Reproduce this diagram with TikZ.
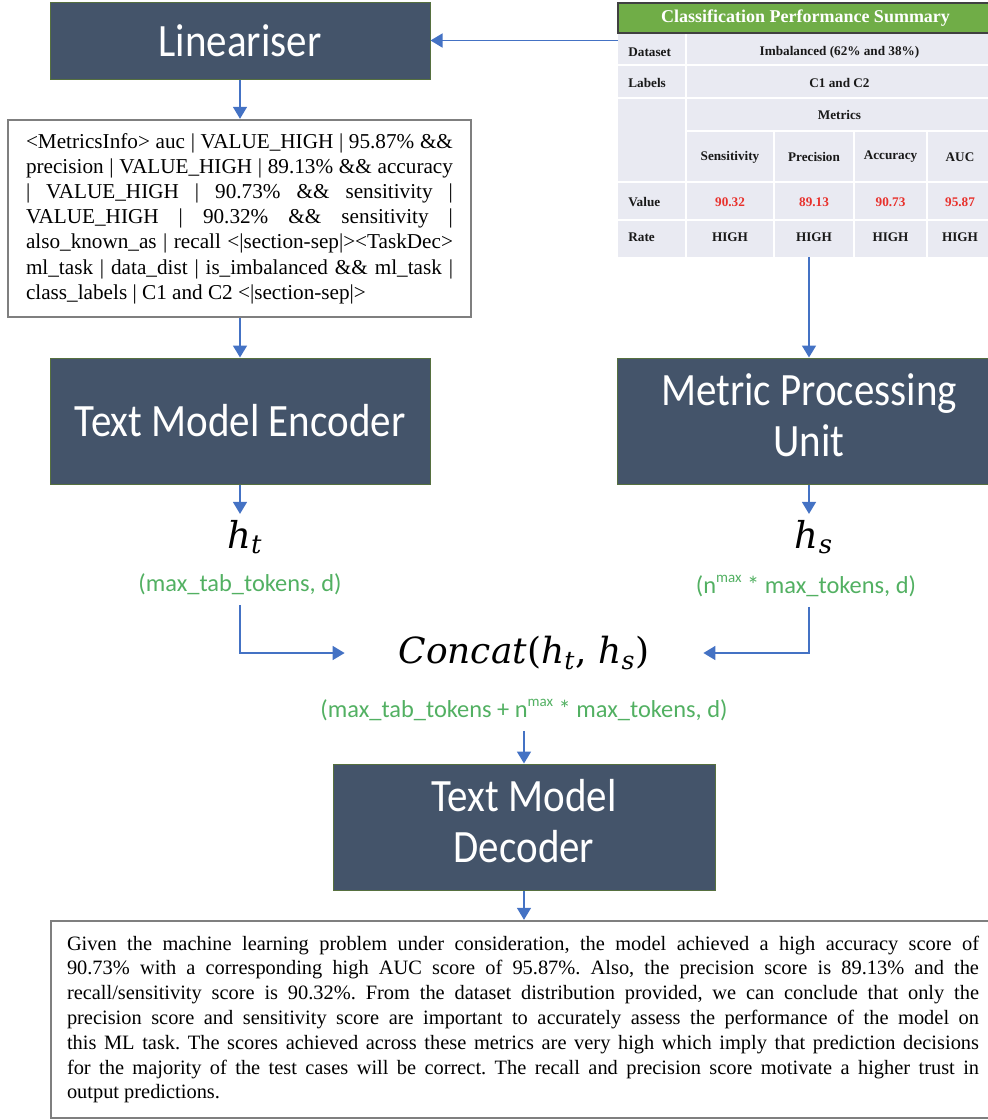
\documentclass[tikz,border=0pt]{standalone}
\usepackage{fontspec}
\usepackage{graphicx}
\setmainfont{Liberation Serif}
\newfontfamily\calfont{Carlito}
\newfontfamily\hfont{DejaVu Serif}
\usetikzlibrary{arrows.meta,calc}

\definecolor{slate}{HTML}{44546A}
\definecolor{slateedge}{HTML}{56703F}
\definecolor{arrowblue}{HTML}{4472C4}
\definecolor{dimgreen}{HTML}{52B062}
\definecolor{tabgreen}{HTML}{70AD47}
\definecolor{tabbg}{HTML}{E9EAF2}
\definecolor{valred}{HTML}{E8312C}
\definecolor{boxgray}{HTML}{7F7F7F}

% taller lettering for the dark blocks
\newcommand{\tallbox}[1]{\scalebox{1}[1.13]{#1}}
% one justified line of a fixed-width text block
\newcommand{\jline}[1]{\hbox to \hsize{#1}}
% italic hidden-state symbol with italic subscript
\newcommand{\hvar}[1]{\textit{h}\textsubscript{\textit{#1}}}
% small raised superscript for the dimension labels
\newcommand{\smallsup}[1]{\raisebox{0.45em}{\fontsize{7.5}{8}\selectfont #1}}

\begin{document}
\frenchspacing
\begin{tikzpicture}[x=0.5pt,y=-0.5pt,
  block/.style={draw=slateedge, line width=0.5pt, fill=slate, text=white,
    inner sep=0pt, font=\calfont\fontsize{20.5}{22.5}\selectfont},
  arr/.style={draw=arrowblue, line width=0.8pt, -{Triangle[width=7pt,length=6pt]}},
  dims/.style={text=dimgreen, font=\calfont\fontsize{12.2}{14}\selectfont,
    inner xsep=0pt, inner ysep=5pt},
  hvec/.style={font=\hfont\fontsize{18.5}{22}\selectfont, inner sep=0pt, outer sep=3pt},
  textbox/.style={draw=boxgray, line width=1.2pt, fill=white, inner sep=0pt},
  tabgrid/.style={draw=white, line width=0.8pt},
  tlabel/.style={font=\bfseries\fontsize{6.6}{8}\selectfont, text=black!90, inner sep=0pt, anchor=west},
  tcell/.style={font=\bfseries\fontsize{6.6}{8}\selectfont, text=black!90, inner sep=0pt},
  tval/.style={tcell, text=valred}
]
\useasboundingbox (0,0) rectangle (988,1120);

% ---- summary table ----
\node[fill=tabbg, minimum width=187.5pt, minimum height=127pt, inner sep=0pt] (tbl) at (805.5,130) {};
\draw[tabgrid] (618,65) -- (993,65);
\draw[tabgrid] (618,98) -- (993,98);
\draw[tabgrid] (686,131) -- (993,131);
\draw[tabgrid] (618,182) -- (993,182);
\draw[tabgrid] (618,220) -- (993,220);
\draw[tabgrid] (686,33) -- (686,257);
\draw[tabgrid] (774,131) -- (774,257);
\draw[tabgrid] (854,131) -- (854,257);
\draw[tabgrid] (927,131) -- (927,257);
\node[draw=black!75, line width=0.9pt, fill=tabgreen, minimum width=187.5pt, minimum height=15pt,
  inner sep=0pt, text=white, font=\bfseries\fontsize{9}{10}\selectfont] (thead) at (805.5,18)
  {Classification Performance Summary};
\node[tlabel] (dsl) at (628,52) {Dataset};
\node[tcell] (dsv) at (839.5,52) {Imbalanced (62\% and 38\%)};
\node[tlabel] (lbl) at (628,83) {Labels};
\node[tcell] (lbv) at (839.5,83) {C1 and C2};
\node[tcell] (mtr) at (839.5,115) {Metrics};
\node[tcell] (m1) at (730,157) {Sensitivity};
\node[tcell] (m2) at (814,157) {Precision};
\node[tcell] (m3) at (890.5,157) {Accuracy};
\node[tcell] (m4) at (960,157) {AUC};
\node[tlabel] (vl) at (628,202) {Value};
\node[tval] (v1) at (730,202) {90.32};
\node[tval] (v2) at (814,202) {89.13};
\node[tval] (v3) at (890.5,202) {90.73};
\node[tval] (v4) at (960,202) {95.87};
\node[tlabel] (rl) at (628,237) {Rate};
\node[tcell] (r1) at (730,237) {HIGH};
\node[tcell] (r2) at (814,237) {HIGH};
\node[tcell] (r3) at (890.5,237) {HIGH};
\node[tcell] (r4) at (960,237) {HIGH};

% ---- processing blocks ----
\node[block, minimum width=190pt, minimum height=38.5pt] (lin) at (240,40.5) {\tallbox{Lineariser}};
\node[block, minimum width=190pt, minimum height=63pt] (enc) at (240,421) {\tallbox{Text Model Encoder}};
\node[block, minimum width=192pt, minimum height=63pt] (mpu) at (809,421)
  {\tallbox{\begin{tabular}{@{}c@{}}Metric Processing\\Unit\end{tabular}}};
\node[block, minimum width=191pt, minimum height=63pt] (dec) at (524,827)
  {\tallbox{\begin{tabular}{@{}c@{}}Text Model\\Decoder\end{tabular}}};

% ---- linearised input ----
\node[textbox, minimum width=231.5pt, minimum height=98.5pt] (lintxt) at (239.5,218.5)
  {\parbox{213.5pt}{\fontsize{10.6}{12.6}\selectfont\hyphenpenalty=10000
   \jline{<MetricsInfo> auc | VALUE\_HIGH | 95.87\% \&\&}
   \jline{precision | VALUE\_HIGH | 89.13\% \&\& accuracy}
   \jline{| VALUE\_HIGH | 90.73\% \&\& sensitivity |}
   \jline{VALUE\_HIGH | 90.32\% \&\& sensitivity |}
   \jline{also\_known\_as | recall <|section-sep|><TaskDec>}
   \jline{ml\_task | data\_dist | is\_imbalanced \&\& ml\_task |}
   \hbox{class\_labels | C1 and C2 <|section-sep|>}}};

% ---- generated output ----
\node[textbox, minimum width=472pt, minimum height=98.5pt] (out) at (523,1019.5)
  {\parbox{456pt}{\fontsize{10.2}{12.4}\selectfont
   \jline{Given the machine learning problem under consideration, the model achieved a high accuracy score of}
   \jline{90.73\% with a corresponding high AUC score of 95.87\%. Also, the precision score is 89.13\% and the}
   \jline{recall/sensitivity score is 90.32\%. From the dataset distribution provided, we can conclude that only the}
   \jline{precision score and sensitivity score are important to accurately assess the performance of the model on}
   \jline{this ML task. The scores achieved across these metrics are very high which imply that prediction decisions}
   \jline{for the majority of the test cases will be correct. The recall and precision score motivate a higher trust in}
   \hbox{output predictions.}}};

% ---- hidden states ----
\node[hvec, anchor=base] (ht) at (245,548) {\hvar{t}};
\node[dims, anchor=base] (htd) at (240,591) {(max\_tab\_tokens, d)};
\node[hvec, anchor=base] (hs) at (814,548) {\hvar{s}};
\node[dims, anchor=base] (hsd) at (806,593) {(n\smallsup{max} * max\_tokens, d)};
\node[font=\hfont\fontsize{18}{22}\selectfont, inner sep=0pt, minimum width=179pt] (cat) at (524,653)
  {\textit{Concat}(\hvar{t}, \hvar{s})};
\node[dims, anchor=base] (catd) at (524,717) {(max\_tab\_tokens + n\smallsup{max} * max\_tokens, d)};

% ---- connectors ----
\draw[arr] (tbl.west |- lin.east) -- (lin.east);
\draw[arr] (lin.south) -- (lin.south |- lintxt.north);
\draw[arr] (lintxt.south -| enc.north) -- (enc.north);
\draw[arr] (mpu.north |- tbl.south) -- (mpu.north);
\draw[arr] (enc.south) -- (enc.south |- ht.north);
\draw[arr] (mpu.south) -- (mpu.south |- hs.north);
\draw[arr] (htd.south -| enc.south) |- (cat.west);
\draw[arr] (hsd.south -| mpu.south) |- (cat.east);
\draw[arr] (catd.south -| dec.north) -- (dec.north);
\draw[arr] (dec.south) -- (dec.south |- out.north);
\end{tikzpicture}
\end{document}
